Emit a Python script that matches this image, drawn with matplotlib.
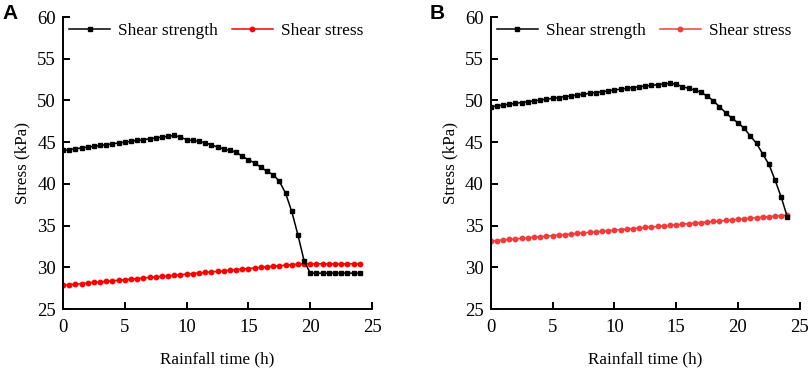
import matplotlib
matplotlib.use('Agg')
import matplotlib.pyplot as plt

# rainfall time (h), one reading every half hour
time_h = [i * 0.5 for i in range(49)]

strength_a = [44.0, 44.1, 44.2, 44.3, 44.4, 44.5, 44.6, 44.7, 44.8, 44.9,
              45.0, 45.1, 45.2, 45.3, 45.4, 45.5, 45.6, 45.7, 45.8,
              45.6, 45.3, 45.2, 45.1, 44.9, 44.7, 44.4, 44.2, 44.0, 43.8,
              43.3, 42.9, 42.5, 42.0, 41.5, 41.1, 40.3, 38.9, 36.7, 33.9,
              30.8, 29.3, 29.3, 29.3, 29.3, 29.3, 29.3, 29.3, 29.3, 29.3]
stress_a = [27.85, 27.92, 27.98, 28.05, 28.12, 28.18, 28.25, 28.32, 28.38, 28.45,
            28.52, 28.58, 28.65, 28.72, 28.78, 28.85, 28.92, 28.98, 29.05, 29.12,
            29.18, 29.25, 29.32, 29.38, 29.45, 29.52, 29.58, 29.65, 29.72, 29.78,
            29.85, 29.92, 29.98, 30.05, 30.12, 30.18, 30.25, 30.32, 30.38, 30.42,
            30.42, 30.42, 30.42, 30.42, 30.42, 30.42, 30.42, 30.42, 30.42]

strength_b = [49.2, 49.35, 49.45, 49.55, 49.65, 49.75, 49.85, 49.95, 50.05, 50.15,
              50.25, 50.35, 50.45, 50.55, 50.65, 50.75, 50.85, 50.95, 51.05, 51.15,
              51.25, 51.35, 51.45, 51.55, 51.65, 51.72, 51.8, 51.9, 51.98, 52.05,
              51.93, 51.65, 51.45, 51.25, 50.97, 50.53, 49.97, 49.25, 48.53, 47.86,
              47.33, 46.66, 45.74, 44.86, 43.58, 42.34, 40.46, 38.4, 36.0]
stress_b = [33.15, 33.21, 33.28, 33.34, 33.41, 33.47, 33.54, 33.6, 33.67, 33.73,
            33.8, 33.86, 33.93, 33.99, 34.06, 34.12, 34.19, 34.25, 34.32, 34.38,
            34.45, 34.51, 34.58, 34.64, 34.71, 34.77, 34.84, 34.9, 34.97, 35.03,
            35.1, 35.16, 35.23, 35.29, 35.36, 35.42, 35.49, 35.55, 35.62, 35.68,
            35.75, 35.81, 35.88, 35.94, 36.01, 36.07, 36.14, 36.2, 36.25]

panels = [('A', strength_a, stress_a, '#ff0000'),
          ('B', strength_b, stress_b, '#f23c3c')]

plt.rcParams['font.family'] = 'Liberation Serif'

fig = plt.figure(figsize=(8.09, 3.68), dpi=100)
lefts = [0.0779, 0.6066]
width = 0.382

for left, (tag, strength, stress, red) in zip(lefts, panels):
    ax = fig.add_axes([left, 0.1603, width, 0.7935])
    ax.plot(time_h, strength, color='black', lw=1.1, marker='s', ms=2.6,
            label='Shear strength', zorder=3)
    ax.plot(time_h, stress, color=red, lw=1.1, marker='o', ms=3.2,
            label='Shear stress', zorder=2)
    ax.set_xlim(0, 25)
    ax.set_ylim(25, 60)
    ax.set_xticks([0, 5, 10, 15, 20, 25])
    ax.set_yticks([25, 30, 35, 40, 45, 50, 55, 60])
    ax.spines['top'].set_visible(False)
    ax.spines['right'].set_visible(False)
    for s in ['left', 'bottom']:
        ax.spines[s].set_linewidth(1.4)
    ax.tick_params(direction='in', length=5, width=1.4, labelsize=13.5)
    ax.tick_params(axis='x', pad=7)
    ax.tick_params(axis='y', pad=5)
    ax.set_xlabel('Rainfall time (h)', fontsize=12.3, labelpad=11)
    ax.set_ylabel('Stress (kPa)', fontsize=12.3, labelpad=5)
    ax.legend(loc='upper left', bbox_to_anchor=(0.0, 1.0), ncol=2, frameon=False,
              fontsize=12.4, numpoints=1, handlelength=2.4, columnspacing=0.8,
              handletextpad=0.45, borderaxespad=0.0, borderpad=0.35)
    fig.text(left - 0.075, 0.99, tag, family='Liberation Sans', weight='bold',
             fontsize=15, va='top', ha='left')

fig.savefig('out.png', dpi=100)
